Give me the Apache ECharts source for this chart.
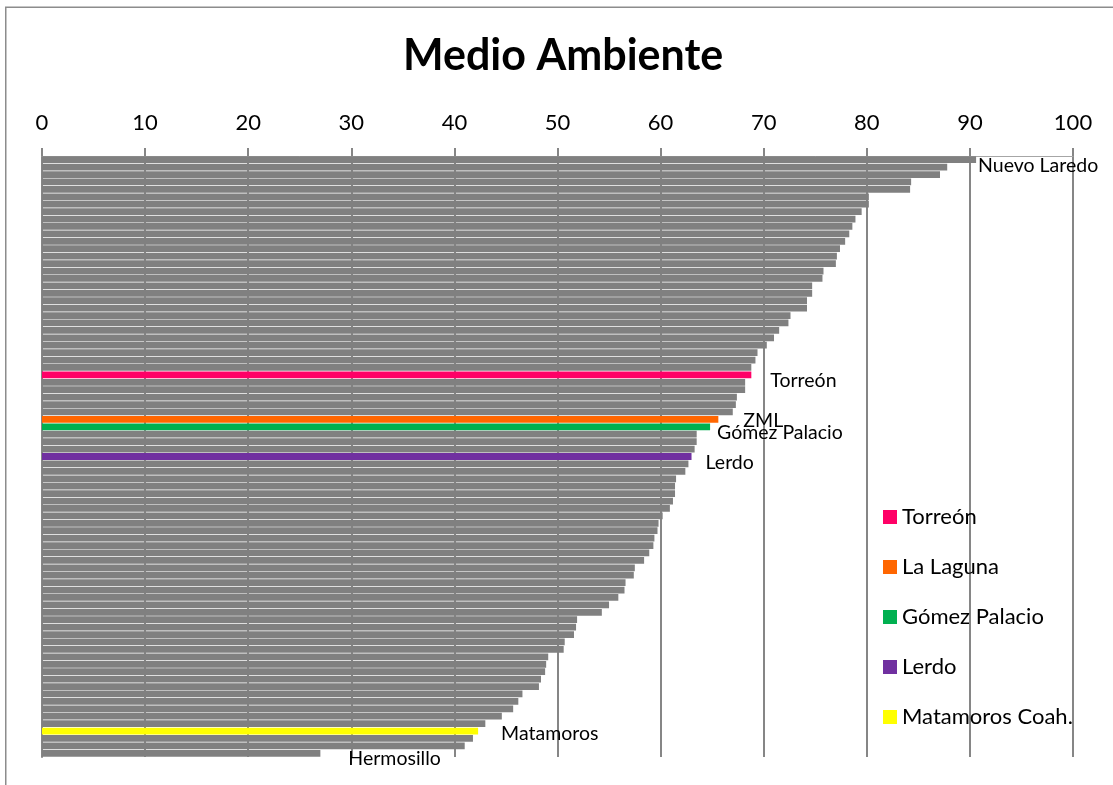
<!DOCTYPE html>
<html>
<head>
<meta charset="utf-8">
<title>Medio Ambiente</title>
<script src="https://cdn.jsdelivr.net/npm/echarts@6/dist/echarts.min.js"></script>
<style>
  html, body { margin: 0; padding: 0; background: #fff; }
  #chart { width: 1113px; height: 785px; }
</style>
</head>
<body>
<div id="chart"></div>
<script>
// one value per city, sorted from top to bottom of the chart
const values = [
  90.6, 87.8, 87.1, 84.3, 84.2, 80.2, 80.2, 79.5, 78.9, 78.6,
  78.3, 77.9, 77.4, 77.1, 77.0, 75.8, 75.7, 74.7, 74.7, 74.2,
  74.2, 72.6, 72.4, 71.5, 71.0, 70.3, 69.4, 69.2, 68.8, 68.8,
  68.2, 68.2, 67.4, 67.3, 67.0, 65.6, 64.8, 63.5, 63.5, 63.3,
  63.0, 62.7, 62.4, 61.5, 61.4, 61.4, 61.2, 60.9, 60.2, 59.8,
  59.7, 59.4, 59.3, 58.9, 58.4, 57.5, 57.4, 56.6, 56.5, 55.9,
  55.0, 54.3, 51.9, 51.8, 51.6, 50.7, 50.6, 49.1, 48.9, 48.8,
  48.4, 48.2, 46.6, 46.2, 45.7, 44.6, 43.0, 42.3, 41.8, 41.0,
  27.0
];

// coloured bars (legend entries)
const highlightNames = ['Torreón', 'La Laguna', 'Gómez Palacio', 'Lerdo', 'Matamoros Coah.'];
const highlightIndex = [29, 35, 36, 40, 77];
const highlightColors = ['#FF0066', '#FF6600', '#00B050', '#7030A0', '#FFFF00'];

// names written next to some bars
const labelIndex = [0, 29, 35, 36, 40, 77, 80];
const labelText = ['Nuevo Laredo', 'Torreón', 'ZML', 'Gómez Palacio', 'Lerdo', 'Matamoros', 'Hermosillo'];

const xTicks = [0, 10, 20, 30, 40, 50, 60, 70, 80, 90, 100];

// label nudges (they were placed by hand in the original)
const labelOffsets = {0: [2, 6], 29: [19, 6], 35: [25, 1], 36: [7, 6], 40: [14, 6], 77: [23, 3], 80: [28, 5]};

const FONT = 'Lato';
const categories = values.map((v, i) => String(i + 1));

function item(v, i) {
  const k = labelIndex.indexOf(i);
  if (k < 0) return v;
  return {
    value: v,
    label: {
      show: true,
      position: 'right',
      distance: 0,
      offset: labelOffsets[i],
      formatter: labelText[k],
      color: '#000',
      fontSize: 19.5,
      fontFamily: FONT
    }
  };
}

const series = [{
  name: 'otros',
  type: 'bar',
  barCategoryGap: '9%',
  barGap: '-100%',
  itemStyle: {color: '#808080'},
  data: values.map((v, i) => highlightIndex.includes(i) ? '-' : item(v, i)),
  z: 2
}];
highlightNames.forEach((name, k) => {
  series.push({
    name: name,
    type: 'bar',
    barCategoryGap: '9%',
    barGap: '-100%',
    itemStyle: {color: highlightColors[k]},
    data: values.map((v, i) => i === highlightIndex[k] ? item(v, i) : '-'),
    z: 3
  });
});

const chart = echarts.init(document.getElementById('chart'), null, {renderer: 'canvas'});
chart.setOption({
  animation: false,
  backgroundColor: '#fff',
  title: {
    text: 'Medio Ambiente',
    left: 398,
    top: 30,
    textStyle: {fontFamily: FONT, fontWeight: 'bold', fontSize: 43, color: '#000'}
  },
  legend: {
    data: highlightNames,
    orient: 'vertical',
    left: 878,
    top: 501,
    itemWidth: 14,
    itemHeight: 14,
    itemGap: 28,
    icon: 'rect',
    textStyle: {fontFamily: FONT, fontSize: 22, color: '#000'}
  },
  grid: {left: 42, right: 40, top: 156, bottom: 28, containLabel: false},
  xAxis: {
    type: 'value',
    position: 'top',
    min: xTicks[0],
    max: xTicks[xTicks.length - 1],
    interval: 10,
    axisLine: {show: true, lineStyle: {color: '#a6a6a6', width: 1}},
    axisTick: {show: true, length: 8, lineStyle: {color: '#868686', width: 2}},
    axisLabel: {fontFamily: FONT, fontSize: 22, color: '#000', margin: 22},
    splitLine: {show: true, lineStyle: {color: '#868686', width: 2}}
  },
  yAxis: {
    type: 'category',
    inverse: true,
    data: categories,
    axisLine: {show: true, lineStyle: {color: '#868686', width: 2}},
    axisTick: {show: false},
    axisLabel: {show: false}
  },
  graphic: [{
    type: 'rect',
    shape: {x: 5.75, y: 7.25, width: 1200, height: 900},
    style: {fill: 'none', stroke: '#8c8c8c', lineWidth: 1.5},
    silent: true
  }],
  series: series
});
</script>
</body>
</html>
